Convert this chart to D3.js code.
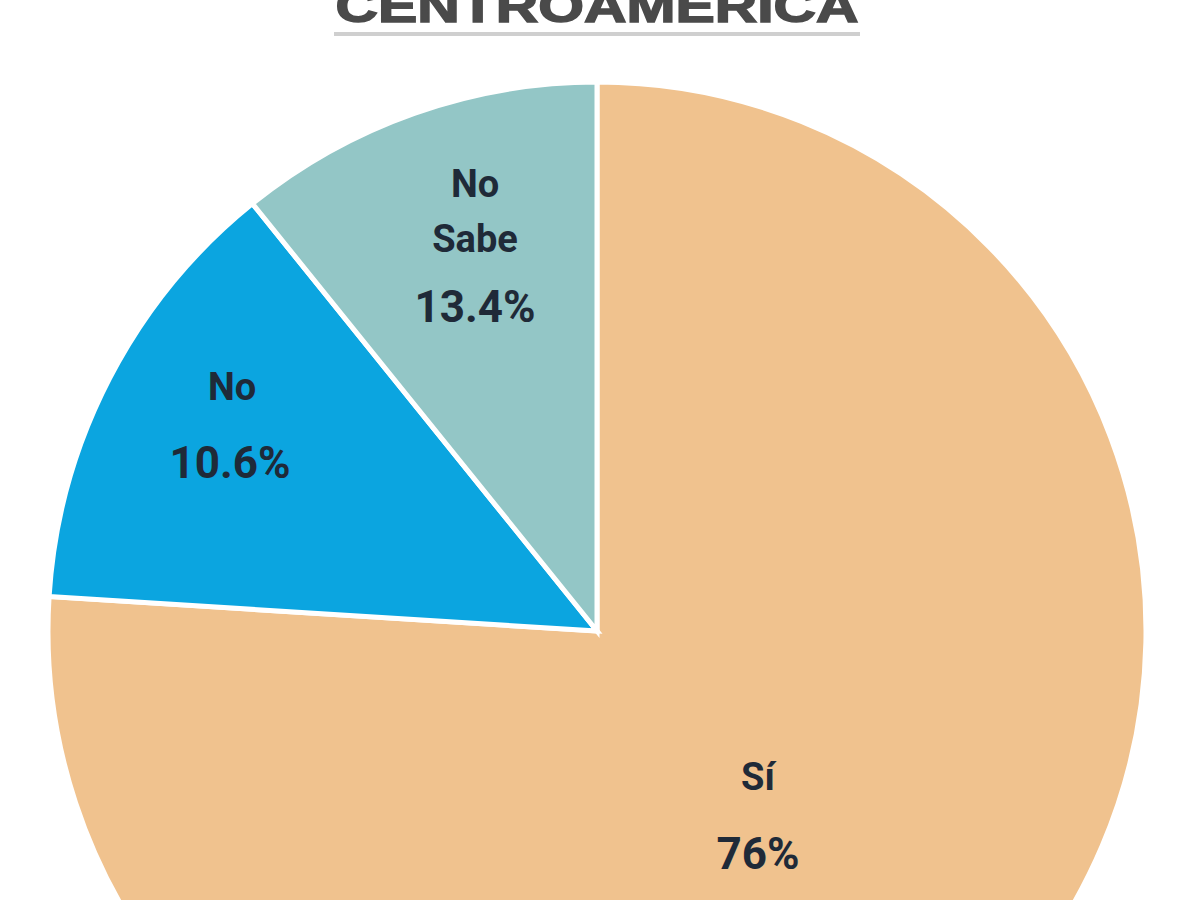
<!DOCTYPE html><html><head><meta charset="utf-8"><script src="https://cdn.jsdelivr.net/npm/d3@7"></script>
<style>body{margin:0;background:#fff}</style></head><body><svg id="c" width="1200" height="900"></svg><script>
const categories=["Sí","No","No Sabe"];
// slice sizes as drawn in the picture (the printed labels differ from the drawn angles)
const sliceShares=[76,13.2,10.8];
const labels=["76%","10.6%","13.4%"];
const colors=["#F0C28E","#0BA5E0","#93C6C6"];
const svg=d3.select("#c");
svg.append("text").attr("x",597).attr("y",22).attr("text-anchor","middle").attr("font-family","Liberation Sans, Arial").attr("font-weight","bold").attr("font-size",46).attr("fill","#4a4a4a").attr("stroke","#4a4a4a").attr("stroke-width",1.5).attr("textLength",523).attr("lengthAdjust","spacingAndGlyphs").text("CENTROAMERICA");
svg.append("rect").attr("x",334).attr("y",32).attr("width",526).attr("height",4).attr("fill","#cfcfcf");
const cx=597,cy=631,r=549;
const g=svg.append("g").attr("transform",`translate(${cx},${cy})`);
const pie=d3.pie().sort(null)(sliceShares);
const arc=d3.arc().innerRadius(0).outerRadius(r);
g.selectAll("path").data(pie).join("path").attr("d",arc).attr("fill",(d,i)=>colors[i]).attr("stroke","#fff").attr("stroke-width",5);
const lab=[[[758,780],[758,857]],[[232,390],[230,466]],[[475,187],[475,242],[475,310]]];
const txt=[["Sí",labels[0]],["No",labels[1]],["No","Sabe",labels[2]]];
txt.forEach((t,i)=>t.forEach((s,j)=>{
 const [x,y]=lab[i][j];
 g.append("text").attr("x",x-cx).attr("y",y-cy).attr("text-anchor","middle").attr("dominant-baseline","middle").attr("font-family","Roboto, Liberation Sans").attr("font-weight","bold").attr("font-size",j===t.length-1?44:38).attr("fill","#1f2a38").text(s);
}));
</script></body></html>
